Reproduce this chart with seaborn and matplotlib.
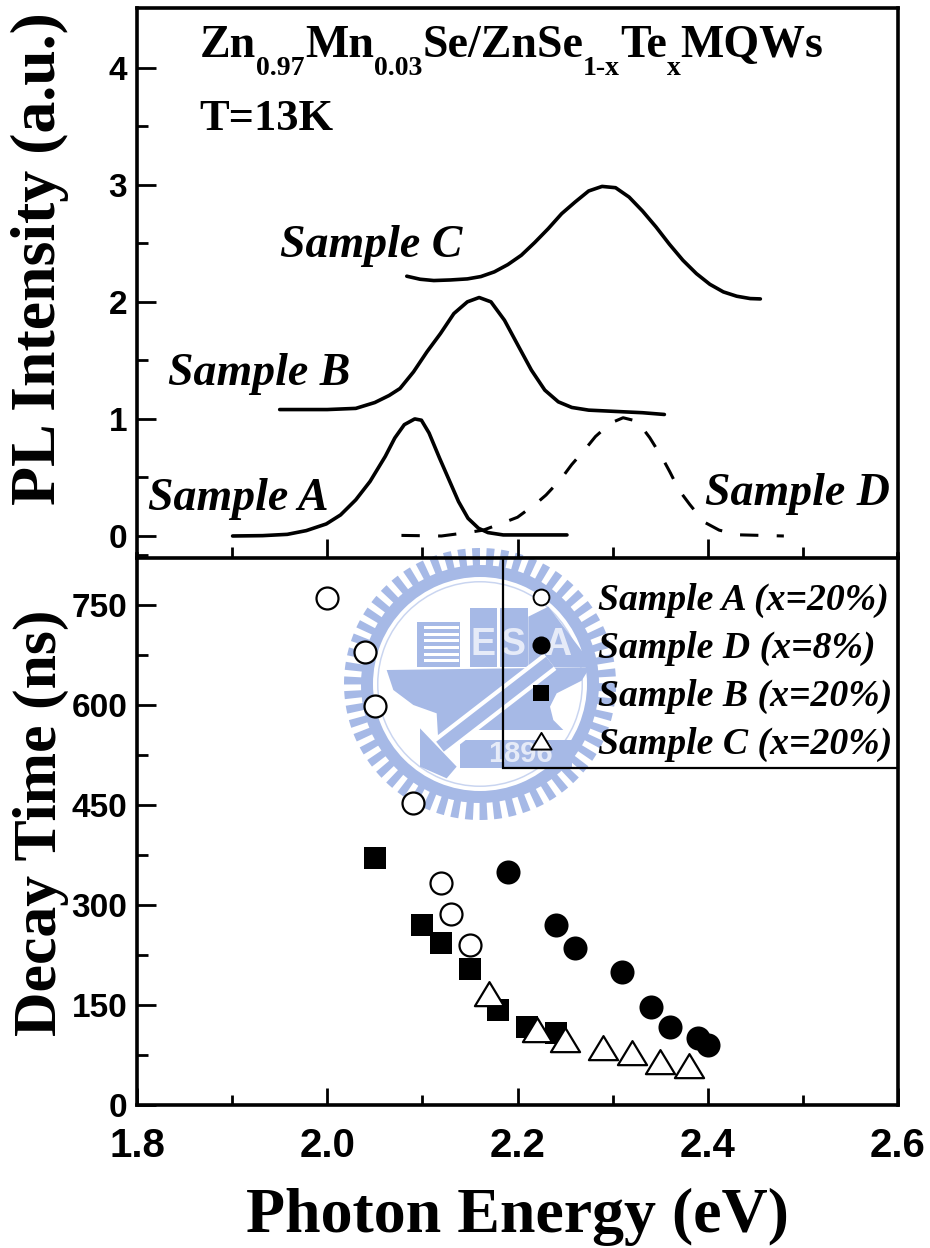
import numpy as np
import pandas as pd
import matplotlib
matplotlib.use('Agg')
import matplotlib.pyplot as plt
from matplotlib.lines import Line2D
from matplotlib.patches import Polygon, Rectangle, Wedge
from matplotlib.path import Path
import seaborn as sns

# PL spectra
a_x = [1.9005, 1.932, 1.958, 1.978, 1.999, 2.014, 2.030, 2.045, 2.061, 2.071, 2.081, 2.092, 2.099, 2.107,
       2.118, 2.128, 2.138, 2.148, 2.159, 2.169, 2.185, 2.252]
a_y = [0.0, 0.003, 0.014, 0.046, 0.103, 0.18, 0.309, 0.466, 0.68, 0.837, 0.951, 1.0, 0.989, 0.88,
       0.666, 0.48, 0.294, 0.151, 0.066, 0.029, 0.009, 0.009]
b_x = [1.95, 2.0, 2.03, 2.05, 2.065, 2.0765, 2.0907, 2.1048, 2.119, 2.1331, 2.1473, 2.1597, 2.1721, 2.1863,
       2.2004, 2.2146, 2.2287, 2.2429, 2.2571, 2.2748, 2.3031, 2.3314, 2.3544]
b_y = [1.08, 1.08, 1.09, 1.14, 1.2, 1.26, 1.402, 1.573, 1.729, 1.9, 2.0, 2.037, 2.0, 1.843,
       1.63, 1.417, 1.246, 1.146, 1.098, 1.075, 1.064, 1.053, 1.038]
c_x = [2.0836, 2.0977, 2.112, 2.1296, 2.1473, 2.1615, 2.1756, 2.1898, 2.204, 2.218, 2.2323, 2.2464, 2.2606, 2.2748,
       2.2889, 2.3031, 2.3173, 2.3314, 2.3456, 2.3597, 2.3739, 2.3881, 2.4022, 2.4164, 2.4305, 2.4447, 2.4553]
c_y = [2.219, 2.193, 2.182, 2.187, 2.196, 2.216, 2.256, 2.318, 2.398, 2.506, 2.625, 2.753, 2.853, 2.947,
       2.986, 2.975, 2.895, 2.776, 2.64, 2.492, 2.355, 2.241, 2.15, 2.085, 2.048, 2.028, 2.025]
d_x = [2.078, 2.12, 2.148, 2.164, 2.184, 2.20, 2.22, 2.23, 2.246, 2.257, 2.272, 2.282, 2.298, 2.311, 2.326, 2.339,
       2.352, 2.36, 2.37, 2.381, 2.396, 2.412, 2.432, 2.48]
d_y = [0.005, 0.00, 0.03, 0.05, 0.11, 0.16, 0.28, 0.35, 0.49, 0.61, 0.75, 0.85, 0.965, 1.01, 0.98, 0.84,
       0.67, 0.55, 0.39, 0.27, 0.12, 0.05, 0.01, 0.00]

# decay times
ea = [2.00, 2.04, 2.05, 2.09, 2.12, 2.13, 2.15]
ta = [760, 680, 598, 453, 333, 286, 240]
ed = [2.19, 2.24, 2.26, 2.31, 2.34, 2.36, 2.39, 2.40]
td = [350, 270, 235, 200, 147, 117, 100, 90]
eb = [2.05, 2.10, 2.12, 2.15, 2.18, 2.21, 2.24]
tb = [370, 270, 243, 204, 143, 117, 108]
ec = [2.17, 2.22, 2.25, 2.29, 2.32, 2.35, 2.38]
tc = [167, 113, 97, 85, 78, 65, 58]

legend_labels = ['Sample A (x=20%)', 'Sample D (x=8%)', 'Sample B (x=20%)', 'Sample C (x=20%)']

sns.set_theme(style='ticks')
plt.rcParams.update({'font.family': 'Liberation Sans', 'font.weight': 'bold',
                     'text.color': 'black', 'axes.labelcolor': 'black', 'axes.edgecolor': 'black',
                     'xtick.color': 'black', 'ytick.color': 'black'})
SERIF = 'Liberation Serif'
LOGO = '#a6b9e6'
W, H = 930, 1248
# flatter triangle than the stock '^'
TRI = Path([(-1, -0.8), (1, -0.8), (0, 0.85), (-1, -0.8)], closed=True)

fig = plt.figure(figsize=(W / 100, H / 100), dpi=100, facecolor='white')

# ── watermark, drawn in crop coordinates (zx, zy) ─────────────────────────────
wm = fig.add_axes([0, 0, 1, 1], zorder=0)
wm.set_xlim(0, W); wm.set_ylim(H, 0); wm.axis('off')
def z(pts):
    return [(340 + px / 3, 550 + py / 3) for px, py in pts]
def zpoly(pts, color=LOGO):
    wm.add_patch(Polygon(z(pts), closed=True, fc=color, ec='none'))
cx, cy = z([(420, 402)])[0]
wm.add_patch(Wedge((cx, cy), 119, 0, 360, width=12, fc=LOGO, ec='none'))
wm.add_patch(Wedge((cx, cy), 103, 0, 360, width=1.5, fc=LOGO, ec='none', alpha=0.6))
for ang in np.arange(0, 360, 6.2):
    wm.add_patch(Wedge((cx, cy), 136, ang, ang + 3.4, width=19, fc=LOGO, ec='none'))
zpoly([(230, 215), (360, 215), (360, 350), (230, 350)])
for sy in range(228, 345, 20):
    zpoly([(252, sy), (358, sy), (358, sy + 9), (252, sy + 9)], 'white')
zpoly([(390, 175), (470, 175), (470, 350), (390, 350)])
zpoly([(480, 175), (565, 175), (565, 350), (480, 350)])
zpoly([(565, 200), (625, 170), (750, 335), (750, 352), (565, 352)])
zpoly([(140, 360), (750, 352), (725, 392), (650, 430), (630, 470), (640, 510), (670, 540),
       (400, 540), (295, 575), (290, 490), (220, 465), (160, 420)])
for txt, zx, zy in [('E', 430, 285), ('S', 520, 285), ('A', 652, 285)]:
    px, py = z([(zx, zy)])[0]
    wm.text(px, py, txt, color='#e6ebf8', fontsize=27, ha='center', va='center', family='Liberation Sans')
l1 = z([(630, 335), (300, 590)])
wm.plot(*zip(*l1), color='white', lw=15, solid_capstyle='butt')
wm.plot(*zip(*l1), color=LOGO, lw=9, solid_capstyle='butt')
zpoly([(240, 535), (350, 650), (320, 685), (240, 650)])
zpoly([(360, 570), (695, 570), (695, 655), (360, 655)])
px, py = z([(540, 612)])[0]
wm.text(px, py, '1896', color='#e6ebf8', fontsize=21, ha='center', va='center', family='Liberation Sans')

# ── панели ────────────────────────────────────────────────────────────────────
ax1 = fig.add_axes([137 / W, 1 - 558 / H, 761 / W, 550 / H], zorder=2, facecolor='none')
ax2 = fig.add_axes([137 / W, 1 - 1105 / H, 761 / W, 551 / H], zorder=3, facecolor='none')

# top: spectra
for xs, ys in [(a_x, a_y), (b_x, b_y), (c_x, c_y)]:
    sns.lineplot(data=pd.DataFrame({'E': xs, 'I': ys}), x='E', y='I', ax=ax1, color='black',
                 lw=2.6, estimator=None, sort=False)
sns.lineplot(data=pd.DataFrame({'E': d_x, 'I': d_y}), x='E', y='I', ax=ax1, color='black',
             lw=2.2, estimator=None, sort=False, dashes=[(6, 6)], style=[0] * len(d_x), legend=False)
ax1.set_xlim(1.8, 2.6); ax1.set_ylim(-0.188, 4.51)
ax1.set_xticks(np.arange(2.0, 2.5, 0.2)); ax1.set_xticks(np.arange(1.9, 2.55, 0.2), minor=True)
ax1.set_yticks([0, 1, 2, 3, 4]); ax1.set_yticks(np.arange(0.5, 4.5, 1), minor=True)
ax1.tick_params(axis='x', which='both', labelbottom=False)

# title with hand-set subscripts, pixel positions
def chem_title(x, base, parts):
    rend = fig.canvas.get_renderer()
    for txt, sub in parts:
        t = ax1.text(x, base + (18 if sub else 0), txt, transform=wm.transData, family=SERIF, weight='bold',
                     fontsize=20 if sub else 33, va='baseline', clip_on=False)
        x += t.get_window_extent(rend).width
chem_title(200, 57, [('Zn', 0), ('0.97', 1), ('Mn', 0), ('0.03', 1), ('Se/ZnSe', 0), ('1-x', 1),
                     ('Te', 0), ('x', 1), ('MQWs', 0)])
ax1.text(1.866, 3.47, 'T=13K', fontsize=32, family=SERIF, weight='bold')
for txt, x, y in [('Sample A', 1.812, 0.22), ('Sample B', 1.833, 1.29),
                  ('Sample C', 1.95, 2.38), ('Sample D', 2.397, 0.265)]:
    ax1.text(x, y, txt, fontsize=33, family=SERIF, weight='bold', style='italic')

# bottom: decay times
sns.scatterplot(x=ea, y=ta, ax=ax2, marker='o', s=250, fc='white', ec='black', lw=1.6, zorder=3)
sns.scatterplot(x=ed, y=td, ax=ax2, marker='o', s=300, color='black', lw=0, zorder=3)
sns.scatterplot(x=eb, y=tb, ax=ax2, marker='s', s=250, color='black', lw=0, zorder=4)
sns.scatterplot(x=ec, y=tc, ax=ax2, marker=TRI, s=440, fc='white', ec='black', lw=1.6, zorder=5)
ax2.set_xlim(1.8, 2.6); ax2.set_ylim(0, 826.5)
ax2.set_xticks(np.arange(1.8, 2.65, 0.2)); ax2.set_xticks(np.arange(1.9, 2.55, 0.2), minor=True)
ax2.set_yticks(np.arange(0, 751, 150)); ax2.set_yticks(np.arange(75, 826, 150), minor=True)
ax2.set_xticklabels(['%.1f' % v for v in np.arange(1.8, 2.65, 0.2)])
ax2.spines['top'].set_visible(False)

for ax in (ax1, ax2):
    for sp in ax.spines.values():
        sp.set_linewidth(2.6)
    ax.tick_params(which='major', direction='in', length=14, width=2, pad=7)
    ax.tick_params(which='minor', direction='in', length=8, width=2)
    ax.tick_params(axis='y', labelsize=24)
    ax.set_xlabel(''); ax.set_ylabel('')
ax2.tick_params(axis='x', which='major', length=12, pad=15.5, labelsize=29)
ax2.tick_params(axis='x', which='minor', length=7)

ax1.set_ylabel('PL Intensity (a.u.)', fontsize=46, family=SERIF, weight='bold')
ax1.yaxis.set_label_coords(-0.09, 0.545)
ax2.set_ylabel('Decay Time (ns)', fontsize=44.5, family=SERIF, weight='bold')
ax2.yaxis.set_label_coords(-0.09, 0.512)
ax2.set_xlabel('Photon Energy (eV)', fontsize=46, family=SERIF, weight='bold')
ax2.xaxis.set_label_coords(0.50, -0.15)

handles = [Line2D([], [], ls='', marker='o', ms=11.4, mfc='white', mec='black', mew=1.4),
           Line2D([], [], ls='', marker='o', ms=13, mfc='black', mew=0),
           Line2D([], [], ls='', marker='s', ms=12, mfc='black', mew=0),
           Line2D([], [], ls='', marker=TRI, ms=14.5, mfc='white', mec='black', mew=1.4)]
x0 = (503 - 137) / 761
# frame drawn apart, the legend's own would be too tall
leg_x = (499 - 137) / 761
leg = ax2.legend(handles, legend_labels, loc='upper left', bbox_to_anchor=(leg_x, 547.5 / 551, 1 - leg_x, 0),
                 mode='expand', borderaxespad=0, borderpad=0.68, labelspacing=0.34, handlelength=0.85,
                 handletextpad=1.08, frameon=False,
                 prop={'family': SERIF, 'weight': 'bold', 'style': 'italic', 'size': 27.2})
ax2.add_patch(Rectangle((x0, (1105 - 768) / 551), 1 - x0, (768 - 558) / 551, transform=ax2.transAxes,
                        fc='none', ec='black', lw=1.6, clip_on=False))

fig.savefig('out.png', dpi=100)
